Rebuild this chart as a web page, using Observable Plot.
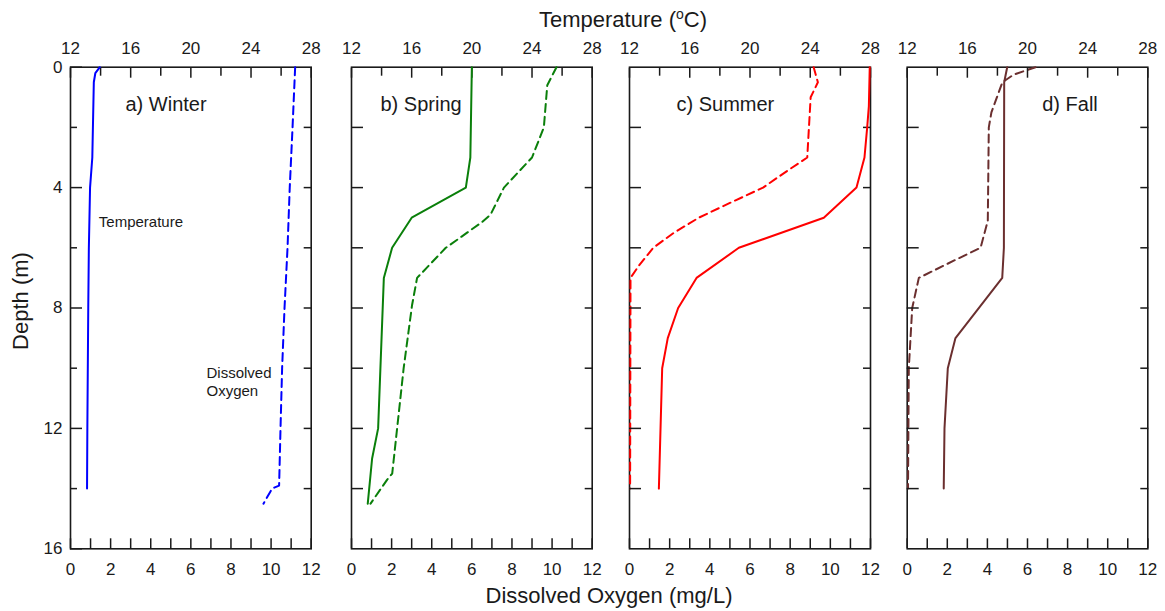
<!DOCTYPE html>
<html><head><meta charset="utf-8">
<script src="https://cdn.jsdelivr.net/npm/d3@7"></script>
<script src="https://cdn.jsdelivr.net/npm/@observablehq/plot@0.6"></script>
<style>
body{margin:0;background:#fff;}
#wrap{position:relative;width:1165px;height:611px;font-family:"Liberation Sans",Arial,sans-serif;}
#wrap svg{position:absolute;left:0;top:0;}
</style></head><body>
<div id="wrap"></div>
<script>
// ---- labels & ticks ----
const seasonLabels = ["a) Winter", "b) Spring", "c) Summer", "d) Fall"];
const tempTicks = [12, 16, 20, 24, 28];
const tempMinor = [14, 18, 22, 26];
const doTicks = [0, 2, 4, 6, 8, 10, 12];
const doAllTicks = [0, 1, 2, 3, 4, 5, 6, 7, 8, 9, 10, 11, 12];
const depthTicks = [0, 4, 8, 12, 16];
const depthMinor = [2, 6, 10, 14];
const depthAll = [2, 4, 6, 8, 10, 12, 14];

// ---- data: temperature (°C) and dissolved oxygen (mg/L) vs depth (m) ----
const winterTempDepth = [0, 0.2, 0.5, 3, 4, 6, 8, 10, 12, 14];
const winterTemp      = [13.95, 13.65, 13.55, 13.45, 13.3, 13.22, 13.18, 13.15, 13.12, 13.1];
const winterDODepth   = [0, 2, 4, 6, 8, 10, 12, 13.9, 14, 14.5];
const winterDO        = [11.2, 11.07, 10.93, 10.82, 10.67, 10.55, 10.47, 10.4, 10.05, 9.62];

const springTempDepth = [0, 3, 4, 5, 6, 7, 12, 13, 14.5];
const springTemp      = [20.0, 19.9, 19.6, 16.0, 14.7, 14.15, 13.77, 13.37, 13.08];
const springDODepth   = [0, 0.6, 2, 3, 4, 4.9, 5.15, 6, 7, 7.9, 10, 13.5, 13.7, 14.5];
const springDO        = [10.22, 9.76, 9.59, 9.0, 7.6, 6.93, 6.5, 4.7, 3.27, 3.02, 2.6, 2.03, 1.78, 0.95];

const summerTempDepth = [0, 1.3, 2, 3, 4, 5, 6, 7, 8, 9, 10, 12, 14];
const summerTemp      = [27.95, 27.89, 27.78, 27.6, 27.07, 24.9, 19.26, 16.45, 15.23, 14.54, 14.17, 14.06, 13.95];
const summerDODepth   = [0, 0.5, 1, 3, 3.5, 4, 4.5, 5, 5.5, 6, 6.6, 7, 14];
const summerDO        = [9.17, 9.38, 9.02, 8.85, 7.73, 6.65, 5.03, 3.45, 2.21, 1.18, 0.46, 0.05, 0.03];

const fallTempDepth = [0, 0.5, 6, 7, 9, 10, 12, 14];
const fallTemp      = [18.65, 18.45, 18.43, 18.32, 15.21, 14.7, 14.48, 14.43];
const fallDODepth   = [0, 0.25, 0.5, 1.5, 2, 5.1, 6, 6.4, 7, 8, 10, 14];
const fallDO        = [6.4, 5.3, 4.75, 4.2, 4.07, 4.02, 3.66, 2.41, 0.58, 0.25, 0.08, 0.04];

// ---- styles & layout ----
const colors = ["#0000ff", "#0a7f0a", "#ff0000", "#6b2f2f"];
const W = 1165, H = 611, TOP = 66.7, BOTTOM = 548.3;
const FRAMES = [[70, 310.7], [351, 591.7], [629, 870], [906.7, 1147.3]];
const labelDx = [55, 29, 47, 135];
const FONT = '"Liberation Sans", Arial, sans-serif';
const INK = "#1a1a1a";

const panels = [
  {tD: winterTempDepth, t: winterTemp, oD: winterDODepth, o: winterDO},
  {tD: springTempDepth, t: springTemp, oD: springDODepth, o: springDO},
  {tD: summerTempDepth, t: summerTemp, oD: summerDODepth, o: summerDO},
  {tD: fallTempDepth, t: fallTemp, oD: fallDODepth, o: fallDO}
];

const wrap = document.getElementById("wrap");

panels.forEach((p, i) => {
  const [L, R] = FRAMES[i];
  const common = {
    width: W, height: H,
    marginLeft: L, marginRight: W - R, marginTop: TOP, marginBottom: H - BOTTOM,
    y: {domain: [0, 16], reverse: true, axis: null},
    style: {fontFamily: FONT, fontSize: "17px", color: INK, background: "transparent", overflow: "visible"}
  };

  // Dissolved oxygen layer (bottom axis, frame, depth ticks)
  const doMarks = [
    Plot.frame({stroke: INK, strokeWidth: 1.6}),
    Plot.axisX(doTicks, {anchor: "bottom", tickSize: 0, tickPadding: 14.5, label: null}),
    Plot.axisX(doAllTicks, {anchor: "bottom", tickSize: -10, tickFormat: () => "", label: null, strokeWidth: 1.5, stroke: INK}),
    Plot.axisY(depthAll, {anchor: "right", tickSize: -8, tickFormat: () => "", label: null, strokeWidth: 1.5, stroke: INK}),
    Plot.line(p.o, {x: p.o, y: p.oD, stroke: colors[i], strokeWidth: 2, strokeDasharray: "8,5"}),
    Plot.text([seasonLabels[i]], {text: d => d, frameAnchor: "top-left", dx: labelDx[i], dy: 37, textAnchor: "start", lineAnchor: "middle", fontSize: 20, fill: INK})
  ];
  if (i === 0) {
    doMarks.push(
      Plot.axisY(depthTicks, {anchor: "left", tickSize: 0, tickPadding: 8, label: null}),
      Plot.axisY(depthTicks, {anchor: "left", tickSize: -12, tickFormat: () => "", label: null, strokeWidth: 1.5, stroke: INK}),
      Plot.axisY(depthMinor, {anchor: "left", tickSize: -7, tickFormat: () => "", label: null, strokeWidth: 1.5, stroke: INK}),
      Plot.text(["Temperature"], {text: d => d, frameAnchor: "top-left", dx: 28.3, dy: 154.5, textAnchor: "start", lineAnchor: "middle", fontSize: 15, fill: INK}),
      Plot.text(["Dissolved\nOxygen"], {text: d => d, frameAnchor: "top-left", dx: 136, dy: 297.7, textAnchor: "start", lineAnchor: "top", lineHeight: 1.2, fontSize: 15, fill: INK})
    );
  } else {
    doMarks.push(
      Plot.axisY(depthAll, {anchor: "left", tickSize: -12, tickFormat: () => "", label: null, strokeWidth: 1.5, stroke: INK})
    );
  }
  const doPlot = Plot.plot({...common, x: {domain: [0, 12], axis: null}, marks: doMarks});

  // Temperature layer (top axis)
  const tPlot = Plot.plot({
    ...common,
    x: {domain: [12, 28], axis: null},
    marks: [
      Plot.axisX(tempTicks, {anchor: "top", tickSize: 0, tickPadding: 13, label: null}),
      Plot.axisX(tempTicks, {anchor: "top", tickSize: -10, tickFormat: () => "", label: null, strokeWidth: 1.5, stroke: INK}),
      Plot.axisX(tempMinor, {anchor: "top", tickSize: -8, tickFormat: () => "", label: null, strokeWidth: 1.5, stroke: INK}),
      Plot.line(p.t, {x: p.t, y: p.tD, stroke: colors[i], strokeWidth: 2})
    ]
  });
  wrap.appendChild(doPlot);
  wrap.appendChild(tPlot);
});

// ---- shared axis titles ----
const svg = d3.create("svg").attr("width", W).attr("height", H)
  .style("font-family", FONT).style("fill", INK);
const t1 = svg.append("text").attr("x", 623).attr("y", 27).attr("text-anchor", "middle").style("font-size", "22px");
t1.append("tspan").text("Temperature (");
t1.append("tspan").attr("dy", -8).style("font-size", "14px").text("o");
t1.append("tspan").attr("dy", 8).text("C)");
svg.append("text").attr("x", 609).attr("y", 603).attr("text-anchor", "middle").style("font-size", "22px")
  .text("Dissolved Oxygen (mg/L)");
svg.append("text").attr("transform", "translate(28,301) rotate(-90)").attr("text-anchor", "middle").style("font-size", "22px")
  .text("Depth (m)");
wrap.appendChild(svg.node());
</script>
</body></html>
